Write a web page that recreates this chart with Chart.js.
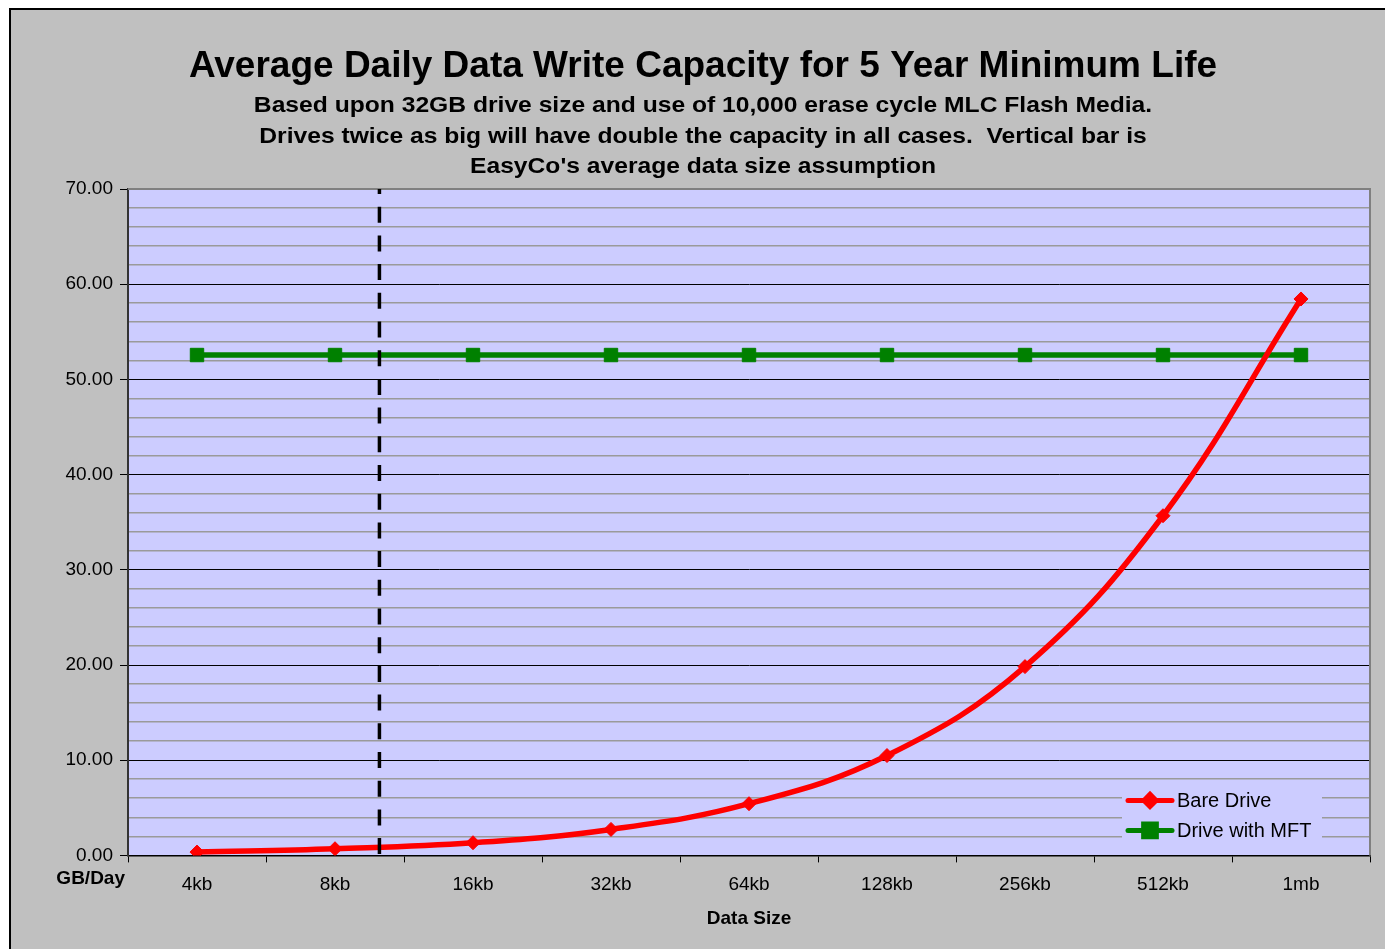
<!DOCTYPE html>
<html>
<head>
<meta charset="utf-8">
<script src="https://cdn.jsdelivr.net/npm/chart.js@4.4.1/dist/chart.umd.min.js"></script>
<style>
  html, body { margin: 0; padding: 0; background: #ffffff; overflow: hidden; width: 1385px; height: 949px; }
  #frame { position: absolute; left: 9px; top: 8px; width: 1384px; height: 945px; border: 2px solid #000; background: #c0c0c0; }
  #wrap { position: absolute; left: 0; top: 0; width: 1384px; height: 945px; }
</style>
</head>
<body>
<div id="frame"><div id="wrap"><canvas id="c"></canvas></div></div>
<script>
// ---- data ----
const categories = ['4kb', '8kb', '16kb', '32kb', '64kb', '128kb', '256kb', '512kb', '1mb'];
const bareDrive = [0.35, 0.70, 1.33, 2.73, 5.43, 10.49, 19.83, 35.68, 58.45];
const driveWithMFT = [52.56, 52.56, 52.56, 52.56, 52.56, 52.56, 52.56, 52.56, 52.56];
const avgDataSizeKb = 10;            // EasyCo's average data size assumption
const firstCategoryKb = 4;
const yTickValues = [0, 10, 20, 30, 40, 50, 60, 70];
const titleText = 'Average Daily Data Write Capacity for 5 Year Minimum Life';
const subtitleLines = [
  'Based upon 32GB drive size and use of 10,000 erase cycle MLC Flash Media.',
  'Drives twice as big will have double the capacity in all cases.  Vertical bar is',
  "EasyCo's average data size assumption"
];
const xTitle = 'Data Size';
const yTitle = 'GB/Day';

const avgIndex = Math.log2(avgDataSizeKb / firstCategoryKb);
const FONT = 'Arial, "Liberation Sans", sans-serif';
const PLOT_BG = '#ccccff';

const plotBg = {
  id: 'plotBg',
  beforeDraw(chart) {
    const {ctx, chartArea: a} = chart;
    ctx.save();
    ctx.fillStyle = PLOT_BG;
    ctx.fillRect(a.left, a.top, a.right - a.left, a.bottom - a.top);
    ctx.restore();
  },
  beforeDatasetsDraw(chart) {
    const {ctx, chartArea: a} = chart;
    ctx.save();
    ctx.strokeStyle = '#808080';
    ctx.lineWidth = 2;
    ctx.beginPath();
    ctx.moveTo(a.left, a.top);
    ctx.lineTo(a.right, a.top);
    ctx.lineTo(a.right, a.bottom);
    ctx.stroke();
    ctx.restore();
  }
};

const texts = {
  id: 'texts',
  afterDraw(chart) {
    const {ctx, chartArea: a} = chart;
    const tb = chart.titleBlock;
    ctx.save();
    // subtitle lines (horizontally widened, as in the original)
    ctx.font = 'bold 22px ' + FONT;
    ctx.fillStyle = '#000';
    ctx.textAlign = 'center';
    ctx.textBaseline = 'middle';
    const cx = (tb.left + tb.right) / 2;
    subtitleLines.forEach((line, i) => {
      ctx.save();
      ctx.translate(cx, tb.top + 96 + i * 30.7);
      ctx.scale(1.12, 1);
      ctx.fillText(line, 0, 0);
      ctx.restore();
    });

    // y-axis caption under the 0.00 label
    ctx.font = 'bold 19px ' + FONT;
    ctx.textAlign = 'right';
    ctx.fillText(yTitle, a.left - 3, a.bottom + 23);

    // legend box inside the plot
    const bx = a.right - 248, by = a.bottom - 72, bw = 200, bh = 66;
    ctx.fillStyle = PLOT_BG;
    ctx.fillRect(bx, by, bw, bh);
    const items = [
      {label: 'Bare Drive', color: '#ff0000', style: 'rectRot', r: 6},
      {label: 'Drive with MFT', color: '#008000', style: 'rect', r: 9}
    ];
    items.forEach((it, i) => {
      const cy = by + 17 + i * 30;
      const x0 = bx + 4, x1 = bx + 52;
      ctx.strokeStyle = it.color;
      ctx.lineWidth = 5;
      ctx.lineCap = 'round';
      ctx.beginPath();
      ctx.moveTo(x0 + 2, cy);
      ctx.lineTo(x1 - 2, cy);
      ctx.stroke();
      Chart.helpers.drawPoint(ctx, {pointStyle: it.style, radius: it.r, borderWidth: 1}, (x0 + x1) / 2, cy);
      ctx.fillStyle = it.color;
      ctx.fill();
      ctx.fillStyle = '#000';
      ctx.font = '20px ' + FONT;
      ctx.textAlign = 'left';
      ctx.fillText(it.label, x1 + 3, cy + 1);
    });
    ctx.restore();
  }
};

new Chart(document.getElementById('c'), {
  type: 'line',
  data: {
    labels: categories,
    datasets: [
      {
        label: 'Bare Drive',
        data: bareDrive,
        borderColor: '#ff0000',
        backgroundColor: '#ff0000',
        borderWidth: 5.5,
        tension: 0.4,
        pointStyle: 'rectRot',
        pointRadius: 7,
        pointBorderWidth: 1,
        pointBackgroundColor: '#ff0000',
        pointBorderColor: '#ff0000',
        order: 2
      },
      {
        label: 'Drive with MFT',
        data: driveWithMFT,
        borderColor: '#008000',
        backgroundColor: '#008000',
        borderWidth: 5.5,
        tension: 0,
        pointStyle: 'rect',
        pointRadius: 9.5,
        pointBorderWidth: 1,
        pointBackgroundColor: '#008000',
        pointBorderColor: '#008000',
        order: 3
      },
      {
        label: 'Average data size',
        xAxisID: 'x2',
        data: [{x: avgIndex, y: 70}, {x: avgIndex, y: 0}],
        borderColor: '#000000',
        borderWidth: 3.5,
        borderDash: [16, 12.7],
        borderDashOffset: 11,
        pointRadius: 0,
        tension: 0,
        order: 1
      }
    ]
  },
  options: {
    responsive: true,
    maintainAspectRatio: false,
    animation: false,
    events: [],
    layout: { padding: { left: 25, right: 25, top: 0, bottom: 25 } },
    plugins: {
      legend: { display: false },
      tooltip: { enabled: false },
      title: {
        display: true,
        text: titleText,
        color: '#000',
        font: { family: FONT, size: 37, weight: 'bold', lineHeight: 1.2 },
        padding: { top: 35, bottom: 99.6 }
      },
      subtitle: { display: false }
    },
    scales: {
      x: {
        type: 'category',
        offset: true,
        grid: {
          display: true,
          drawOnChartArea: false,
          drawTicks: true,
          tickLength: 7,
          tickColor: '#000',
          offset: true,
          lineWidth: 1
        },
        border: { display: true, color: '#000', width: 1.5 },
        ticks: { color: '#000', font: { family: FONT, size: 19 }, padding: 11, maxRotation: 0 },
        title: {
          display: true,
          text: xTitle,
          color: '#000',
          font: { family: FONT, size: 19, weight: 'bold', lineHeight: 1.2 },
          padding: { top: 0, bottom: 0 }
        }
      },
      x2: {
        type: 'linear',
        display: false,
        min: -0.5,
        max: categories.length - 0.5
      },
      y: {
        min: 0,
        max: 70,
        afterFit(scale) { scale.width = 92; },
        grid: {
          color: (c) => (c.tick && c.tick.value % 10 === 0) ? '#000000' : '#9a9a9a',
          lineWidth: (c) => (c.tick && c.tick.value % 10 === 0) ? 1 : 1.6,
          tickColor: (c) => (c.tick && c.tick.value % 10 === 0) ? '#000000' : 'rgba(0,0,0,0)',
          tickLength: 8,
          drawTicks: true
        },
        border: { display: true, color: '#333333', width: 2 },
        ticks: {
          stepSize: 2,
          autoSkip: false,
          color: '#000',
          padding: 7,
          font: { family: FONT, size: 19 },
          callback: (v) => yTickValues.includes(v) ? v.toFixed(2) : ''
        }
      }
    }
  },
  plugins: [plotBg, texts]
});
</script>
</body>
</html>
